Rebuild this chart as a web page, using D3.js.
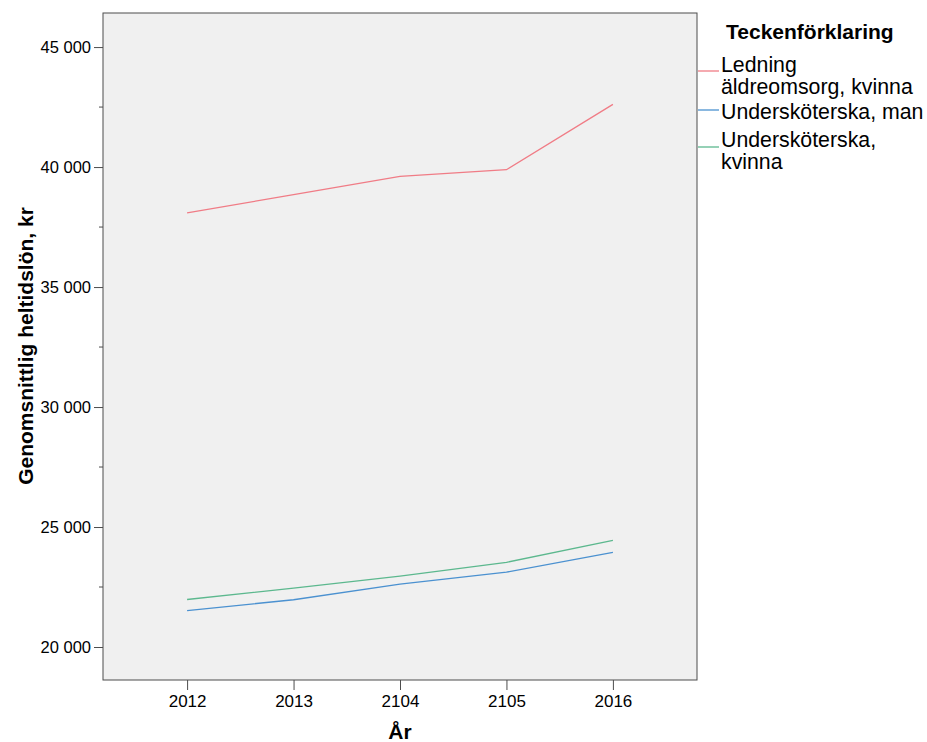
<!DOCTYPE html>
<html><head><meta charset="utf-8">
<script src="https://cdn.jsdelivr.net/npm/d3@7"></script>
<style>body{margin:0;background:#fff;font-family:"Liberation Sans",Arial,sans-serif;}</style>
</head><body><svg id="c" width="927" height="742"></svg>
<script>
const years = ["2012","2013","2104","2105","2016"];
const seriesNames = ["Ledning äldreomsorg, kvinna","Undersköterska, man","Undersköterska, kvinna"];
const ledningKvinna = [38090, 38850, 39610, 39890, 42610];
const uskMan = [21520, 21970, 22620, 23120, 23940];
const uskKvinna = [21980, 22450, 22950, 23530, 24440];
const yTicks = [20000, 25000, 30000, 35000, 40000, 45000];
const colors = ["#f07c86", "#4b91d0", "#5cb88e"];

const svg = d3.select("#c");
const L = 103, R = 697, T = 13, B = 680;
const x = d3.scalePoint().domain(years).range([L, R]).padding(0.79);
const y = d3.scaleLinear().domain([18625, 46420]).range([B, T]);

svg.append("rect").attr("x", L).attr("y", T).attr("width", R - L).attr("height", B - T)
  .attr("fill", "#f0f0f0").attr("stroke", "#4d4d4d").attr("stroke-width", 1);

// Y axis
const yAxis = svg.append("g").attr("transform", `translate(${L},0)`)
  .call(d3.axisLeft(y).tickValues(yTicks).tickSize(9).tickPadding(3)
    .tickFormat(d => d3.format(",")(d).replace(",", " ")));
yAxis.select(".domain").remove();
yAxis.selectAll("text").attr("font-size", 16.5).attr("font-family", "Liberation Sans, Arial").attr("fill", "#000");
yAxis.selectAll("line").attr("stroke", "#4d4d4d");
// minor ticks
const minor = d3.range(22500, 46000, 5000);
svg.append("g").selectAll("line").data(minor).join("line")
  .attr("x1", L - 4).attr("x2", L).attr("y1", d => y(d)).attr("y2", d => y(d)).attr("stroke", "#4d4d4d");

// X axis
const xAxis = svg.append("g").attr("transform", `translate(0,${B})`)
  .call(d3.axisBottom(x).tickSize(10).tickPadding(5));
xAxis.select(".domain").remove();
xAxis.selectAll("text").attr("font-size", 17).attr("font-family", "Liberation Sans, Arial").attr("fill", "#000");
xAxis.selectAll("line").attr("stroke", "#4d4d4d");

// titles
svg.append("text").attr("x", 400).attr("y", 739).attr("text-anchor", "middle")
  .attr("font-size", 21).attr("font-weight", "bold").text("År");
svg.append("text").attr("transform", "translate(33,346) rotate(-90)").attr("text-anchor", "middle")
  .attr("font-size", 21).attr("font-weight", "bold").text("Genomsnittlig heltidslön, kr");

// lines
const line = d3.line().x((d, i) => x(years[i])).y(d => y(d));
[ledningKvinna, uskMan, uskKvinna].forEach((s, i) => {
  svg.append("path").datum(s).attr("d", line).attr("fill", "none")
    .attr("stroke", colors[i]).attr("stroke-width", 1.3);
});

// legend
svg.append("text").attr("x", 726).attr("y", 39).attr("font-size", 21).attr("font-weight", "bold").text("Teckenförklaring");
const legendItems = [
  {lines: ["Ledning", "äldreomsorg, kvinna"], ly: 71, ty: 72},
  {lines: ["Undersköterska, man"], ly: 110, ty: 119},
  {lines: ["Undersköterska,", "kvinna"], ly: 147, ty: 147}
];
legendItems.forEach((it, i) => {
  svg.append("line").attr("x1", 698).attr("x2", 719).attr("y1", it.ly).attr("y2", it.ly)
    .attr("stroke", colors[i]).attr("stroke-width", 1.3);
  const t = svg.append("text").attr("x", 721).attr("y", it.ty).attr("font-size", 21.3);
  it.lines.forEach((ln, j) => t.append("tspan").attr("x", 721).attr("dy", j === 0 ? 0 : 22).text(ln));
});
</script></body></html>
